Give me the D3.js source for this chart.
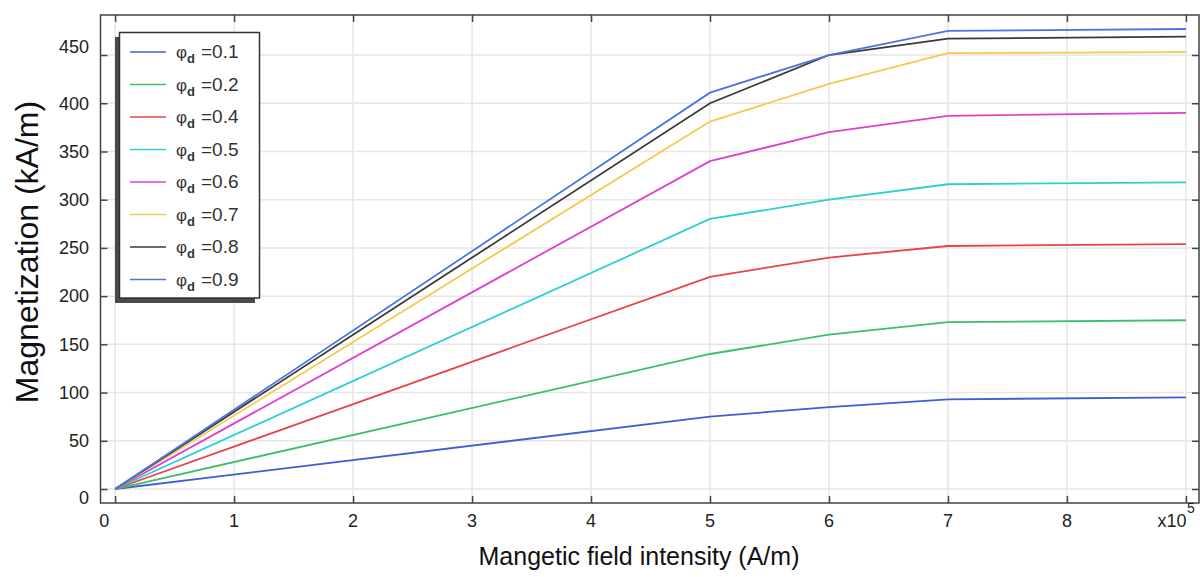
<!DOCTYPE html>
<html><head><meta charset="utf-8">
<script src="https://cdn.jsdelivr.net/npm/d3@7"></script>
<style>body{margin:0;background:#fff}</style>
</head><body>
<svg id="c" width="1200" height="577"></svg>
<script>
// ---- data ----
const xValues = [0, 5, 6, 7, 9];            // x10^5 A/m
const xTicks = [0, 1, 2, 3, 4, 5, 6, 7, 8, 9];
const xTickLabels = ["0", "1", "2", "3", "4", "5", "6", "7", "8", "x10"];
const yTicks = [0, 50, 100, 150, 200, 250, 300, 350, 400, 450];
const seriesNames = ["0.1", "0.2", "0.4", "0.5", "0.6", "0.7", "0.8", "0.9"];
const phi01 = [0, 75, 85, 93, 95];
const phi02 = [0, 140, 160, 173, 175];
const phi04 = [0, 220, 240, 252, 254];
const phi05 = [0, 280, 300, 316, 318];
const phi06 = [0, 340, 370, 387, 390];
const phi07 = [0, 381, 420, 452, 453];
const phi08 = [0, 400, 450, 467, 469];
const phi09 = [0, 411, 450, 475, 477];
const seriesValues = [phi01, phi02, phi04, phi05, phi06, phi07, phi08, phi09];
const seriesColors = ["#3f5fd8", "#3cbf6a", "#e84545", "#2ccfd2", "#dd40cf", "#f5c94e", "#3a3a3a", "#4d74e2"];

// ---- layout ----
const L = 100.5, R = 1199, T = 15, B = 503;
const svg = d3.select("#c");
const x = d3.scaleLinear().domain([-0.123, 9.11]).range([L, R]);
const y = d3.scaleLinear().domain([-14.5, 491.5]).range([B, T]);
const font = "'Liberation Sans', Arial, sans-serif";

// grid
const gGrid = svg.append("g");
gGrid.selectAll("line.v").data(xTicks).join("line")
  .attr("x1", d => x(d)).attr("x2", d => x(d)).attr("y1", T).attr("y2", B)
  .attr("stroke", "#e6e6e6").attr("stroke-width", 1.5);
gGrid.selectAll("line.h").data(yTicks).join("line")
  .attr("class", "h")
  .attr("x1", L).attr("x2", R).attr("y1", d => y(d)).attr("y2", d => y(d))
  .attr("stroke", "#e6e6e6").attr("stroke-width", 1.5);

// ticks (inside, all four sides) via axes
const tickStyle = g => { g.select(".domain").remove(); g.selectAll("line").attr("stroke", "#444").attr("stroke-width", 1.5); g.selectAll("text").remove(); };
svg.append("g").attr("transform", `translate(0,${B})`).call(d3.axisBottom(x).tickValues(xTicks).tickSize(-7).tickFormat("")).call(tickStyle);
svg.append("g").attr("transform", `translate(0,${T})`).call(d3.axisTop(x).tickValues(xTicks).tickSize(-7).tickFormat("")).call(tickStyle);
svg.append("g").attr("transform", `translate(${L},0)`).call(d3.axisLeft(y).tickValues(yTicks).tickSize(-7).tickFormat("")).call(tickStyle);
svg.append("g").attr("transform", `translate(${R},0)`).call(d3.axisRight(y).tickValues(yTicks).tickSize(-7).tickFormat("")).call(tickStyle);

// lines
const line = d3.line().x((d, i) => x(xValues[i])).y(d => y(d));
svg.append("g").selectAll("path").data(seriesValues).join("path")
  .attr("d", d => line(d)).attr("fill", "none")
  .attr("stroke", (d, i) => seriesColors[i]).attr("stroke-width", 1.8);

// frame
svg.append("rect").attr("x", L).attr("y", T).attr("width", R - L).attr("height", B - T)
  .attr("fill", "none").attr("stroke", "#444").attr("stroke-width", 1.5);

// y tick labels
svg.append("g").selectAll("text").data(yTicks).join("text")
  .attr("x", 89).attr("y", d => y(d))
  .attr("dy", d => d === 0 ? "0.35em" : (d === 450 ? "-0.1em" : "0.35em"))
  .attr("transform", d => d === 0 ? "translate(0,9)" : null)
  .attr("text-anchor", "end").attr("font-family", font).attr("font-size", 18).attr("fill", "#222")
  .text(d => d);

// x tick labels
svg.append("g").selectAll("text").data(xTicks).join("text")
  .attr("x", (d, i) => x(d) + (i === 0 ? -11 : (i === 9 ? -14 : 0)))
  .attr("y", 527)
  .attr("text-anchor", "middle").attr("font-family", font).attr("font-size", 18).attr("fill", "#222")
  .text((d, i) => xTickLabels[i]);
svg.append("text").attr("x", x(9) + 1).attr("y", 513).attr("font-family", font).attr("font-size", 14).attr("fill", "#222").text("5");

// axis titles
svg.append("text").attr("x", 639).attr("y", 565).attr("text-anchor", "middle")
  .attr("font-family", font).attr("font-size", 25).attr("fill", "#111").text("Mangetic field intensity (A/m)");
svg.append("text").attr("transform", "translate(38,252) rotate(-90)").attr("text-anchor", "middle")
  .attr("font-family", font).attr("font-size", 32).attr("fill", "#111").text("Magnetization (kA/m)");

// legend
const lg = svg.append("g");
lg.append("rect").attr("x", 115).attr("y", 37).attr("width", 140).attr("height", 266).attr("fill", "#4a4a4a");
lg.append("rect").attr("x", 119.5).attr("y", 32.5).attr("width", 140).attr("height", 265.5)
  .attr("fill", "#fff").attr("stroke", "#333").attr("stroke-width", 1.5);
const items = lg.selectAll("g.it").data(seriesNames).join("g").attr("class", "it")
  .attr("transform", (d, i) => `translate(0,${52 + i * 32.5})`);
items.append("line").attr("x1", 130).attr("x2", 166).attr("y1", 0).attr("y2", 0)
  .attr("stroke", (d, i) => seriesColors[i]).attr("stroke-width", 1.6);
const t = items.append("text").attr("font-family", font).attr("fill", "#333").attr("y", 6);
t.append("tspan").attr("x", 176).attr("font-size", 17).text("φ");
t.append("tspan").attr("font-size", 13).attr("font-weight", "bold").attr("dy", 5).text("d");
t.append("tspan").attr("x", 201).attr("dy", -5).attr("font-size", 19).text(d => "=" + d);
</script>
</body></html>
